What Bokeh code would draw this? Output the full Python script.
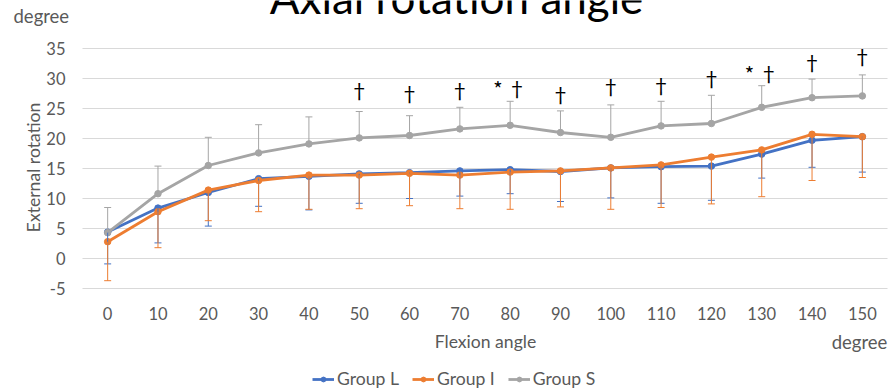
from bokeh.plotting import figure
from bokeh.models import (ColumnDataSource, Range1d, Whisker, TeeHead,
                          Label, Legend, LegendItem)
from bokeh.core.properties import value
from bokeh.embed import file_html
from bokeh.resources import INLINE
import math

# ---------------- data ----------------
flexion = [0, 10, 20, 30, 40, 50, 60, 70, 80, 90, 100, 110, 120, 130, 140, 150]
x_tick_labels = ["0", "10", "20", "30", "40", "50", "60", "70", "80", "90",
                 "100", "110", "120", "130", "140", "150"]

group_l = [4.4, 8.4, 11.0, 13.3, 13.7, 14.1, 14.3, 14.6, 14.8, 14.5, 15.1, 15.3, 15.4, 17.4, 19.7, 20.3]
group_l_sd = [5.3, 5.8, 5.6, 4.6, 5.6, 4.9, 4.3, 4.2, 4.0, 5.0, 5.0, 6.1, 5.7, 4.0, 4.5, 5.9]

group_i = [2.8, 7.8, 11.4, 13.0, 13.9, 13.9, 14.2, 13.9, 14.4, 14.6, 15.1, 15.6, 16.9, 18.1, 20.7, 20.3]
group_i_sd = [6.5, 6.0, 5.1, 5.2, 5.7, 5.6, 5.4, 5.6, 6.2, 6.0, 6.9, 7.1, 7.8, 7.8, 7.7, 6.8]

group_s = [4.3, 10.8, 15.5, 17.6, 19.1, 20.1, 20.5, 21.6, 22.2, 21.0, 20.2, 22.1, 22.5, 25.2, 26.8, 27.1]
group_s_sd = [4.2, 4.6, 4.7, 4.7, 4.5, 4.4, 3.3, 3.6, 4.0, 3.6, 5.4, 4.1, 4.7, 3.6, 3.1, 3.5]

sig_x = [50, 60, 70, 80, 90, 100, 110, 120, 130, 140, 150]
sig_y = [28.0, 27.5, 28.0, 28.4, 27.4, 28.6, 28.8, 30.0, 30.8, 32.6, 33.6]
sig_text = ["†", "†", "†", "* †", "†", "†", "†", "†", "* †", "†", "†"]

y_ticks = [-5, 0, 5, 10, 15, 20, 25, 30, 35]
y_tick_labels = ["-5", "0", "5", "10", "15", "20", "25", "30", "35"]
series_names = ["Group L", "Group I", "Group S"]
series_colors = ["#4472c4", "#ed7d31", "#a5a5a5"]

title_text = "Axial rotation angle"
y_title = "External rotation"
x_title = "Flexion angle"
unit_text = "degree"

# ---------------- layout ----------------
W, H = 893, 392
FL, FR, FT, FB = 82, 887, 48, 288          # plot area in pixels
XMIN, XMAX = -5, 155
YMIN, YMAX = -5, 35
FONT = "Lato"
TXT = "#595959"
FS_TICK = "16.5px"
FS_LAB = "17.6px"

KX = (XMAX - XMIN) / (FR - FL)
KY = (YMAX - YMIN) / (FB - FT)


def dx(px):
    return XMIN + (px - FL) * KX


def dy(py):
    return YMAX - (py - FT) * KY


p = figure(width=W, height=H, output_backend="svg", toolbar_location=None,
           x_range=Range1d(dx(0), dx(W)), y_range=Range1d(dy(H), dy(0)),
           x_axis_location=None, y_axis_location=None,
           min_border=0, min_border_left=0, min_border_right=0,
           min_border_top=0, min_border_bottom=0)
p.outline_line_color = None
p.background_fill_color = "white"
p.border_fill_color = "white"
p.grid.visible = False

# horizontal gridlines across the plot area
p.segment(x0=[XMIN] * len(y_ticks), x1=[XMAX] * len(y_ticks), y0=y_ticks, y1=y_ticks,
          line_color="#d9d9d9", line_width=1)

# tick labels
p.text(x=flexion, y=[dy(313)] * len(flexion), text=x_tick_labels,
       text_font=value(FONT), text_font_size=FS_TICK, text_color=TXT,
       text_align="center", text_baseline="middle")
p.text(x=[dx(65)] * len(y_ticks), y=y_ticks, text=y_tick_labels,
       text_font=value(FONT), text_font_size=FS_TICK, text_color=TXT,
       text_align="right", text_baseline="middle")

# error bars
src_l = ColumnDataSource(dict(x=flexion, y=group_l,
                              lo=[m - s for m, s in zip(group_l, group_l_sd)]))
src_i = ColumnDataSource(dict(x=flexion, y=group_i,
                              lo=[m - s for m, s in zip(group_i, group_i_sd)]))
src_s = ColumnDataSource(dict(x=flexion, y=group_s,
                              hi=[m + s for m, s in zip(group_s, group_s_sd)]))

wl = Whisker(source=src_l, base="x", lower="lo", upper="y", line_color=series_colors[0],
             line_width=1, upper_head=None,
             lower_head=TeeHead(size=7, line_color=series_colors[0], line_width=1))
wi = Whisker(source=src_i, base="x", lower="lo", upper="y", line_color=series_colors[1],
             line_width=1, upper_head=None,
             lower_head=TeeHead(size=7, line_color=series_colors[1], line_width=1))
ws = Whisker(source=src_s, base="x", lower="y", upper="hi", line_color=series_colors[2],
             line_width=1, lower_head=None,
             upper_head=TeeHead(size=7, line_color=series_colors[2], line_width=1))
for w in (wl, wi, ws):
    w.level = "glyph"
    p.add_layout(w)

# lines + markers
items = []
for src, name, col in zip((src_l, src_i, src_s), series_names, series_colors):
    ln = p.line("x", "y", source=src, line_color=col, line_width=2.8)
    sc = p.scatter("x", "y", source=src, marker="circle", size=6.5,
                   fill_color=col, line_color=col)
    items.append(LegendItem(label=name, renderers=[ln, sc]))

# significance marks
sig_src = ColumnDataSource(dict(x=sig_x, y=sig_y, t=sig_text))
p.text("x", "y", text="t", source=sig_src, text_font=value("Noto Sans CJK JP"),
       text_font_size="20px", text_color="#000000", text_align="center",
       text_baseline="middle")

# legend
leg = Legend(items=items, orientation="horizontal", location=(312, 3),
             glyph_width=22, glyph_height=12, label_standoff=3, spacing=13,
             padding=0, margin=0, border_line_color=None, background_fill_alpha=0,
             label_text_font=FONT, label_text_font_size=FS_LAB, label_text_color=TXT,
             label_height=18)
p.add_layout(leg, "center")

# texts
p.add_layout(Label(x=dx(456), y=dy(-4), text=title_text, text_font=FONT,
                   text_font_size="44px", text_color="#000000",
                   text_align="center", text_baseline="alphabetic"))
p.add_layout(Label(x=dx(13), y=dy(15), text=unit_text, text_font=FONT,
                   text_font_size="18.5px", text_color=TXT,
                   text_align="left", text_baseline="middle"))
p.add_layout(Label(x=dx(33), y=dy(167), text=y_title, text_font=FONT,
                   text_font_size=FS_LAB, text_color=TXT, angle=math.pi / 2,
                   text_align="center", text_baseline="middle"))
p.add_layout(Label(x=dx(485), y=dy(341), text=x_title, text_font=FONT,
                   text_font_size=FS_LAB, text_color=TXT,
                   text_align="center", text_baseline="middle"))
p.add_layout(Label(x=dx(859), y=dy(341), text=unit_text, text_font=FONT,
                   text_font_size="18.5px", text_color=TXT,
                   text_align="center", text_baseline="middle"))

open("out.html", "w").write(file_html(p, INLINE))
